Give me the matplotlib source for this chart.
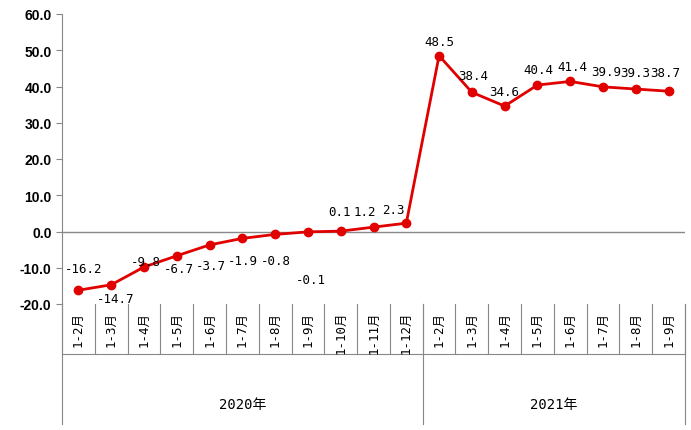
import matplotlib.pyplot as plt
from matplotlib.lines import Line2D

plt.rcParams["font.family"] = ["DejaVu Sans Mono", "Noto Sans CJK SC"]

months = ["1-2月", "1-3月", "1-4月", "1-5月", "1-6月", "1-7月", "1-8月", "1-9月", "1-10月", "1-11月", "1-12月",
          "1-2月", "1-3月", "1-4月", "1-5月", "1-6月", "1-7月", "1-8月", "1-9月"]
years = ["2020年", "2021年"]
year_counts = [11, 8]
values = [-16.2, -14.7, -9.8, -6.7, -3.7, -1.9, -0.8, -0.1, 0.1, 1.2, 2.3,
          48.5, 38.4, 34.6, 40.4, 41.4, 39.9, 39.3, 38.7]
# label offsets in pixels (dx, dy)
offsets = [(5, 22), (4, -14), (2, 6), (2, -13), (1, -21), (1, -22), (1, -26), (3, -48),
           (-1, 20), (-9, 16), (-13, 14), (0, 14), (1, 17), (0, 15), (1, 16), (2, 15),
           (3, 15), (-1, 17), (-3, 19)]

W, H = 691, 431
fig = plt.figure(figsize=(W / 100, H / 100), dpi=100)
ax = fig.add_axes([62 / W, 1 - 305 / H, (685 - 62) / W, 290 / H])
n = len(values)
x = list(range(n))
ax.plot(x, values, color="#E00000", lw=2, marker="o", ms=6, zorder=3)
for xi, v, (dx, dy) in zip(x, values, offsets):
    ax.annotate(f"{v:.1f}", (xi, v), xytext=(dx, dy), textcoords="offset pixels",
                ha="center", va="center", fontsize=9)
ax.set_xlim(-0.5, n - 0.5)
ax.set_ylim(-20, 60)
ax.set_yticks(range(-20, 61, 10))
ax.set_yticklabels([f"{t:.1f}" for t in range(-20, 61, 10)], fontsize=10, family="Liberation Sans", fontweight="bold")
for s in ["top", "right", "bottom"]:
    ax.spines[s].set_visible(False)
ax.spines["left"].set_color("#888888")
ax.axhline(0, color="#888888", lw=1)
ax.set_xticks([])
ax.tick_params(axis="y", length=4, color="#888888")

# category axis below
def fx(i):
    return (62 + (i + 0.5) * (685 - 62) / n) / W

def sep(i):
    return (62 + i * (685 - 62) / n) / W

ytop = 1 - 305 / H
for i in range(n + 1):
    fig.add_artist(Line2D([sep(i), sep(i)], [ytop, 1 - 355 / H], color="#888888", lw=0.8))
for i, m in enumerate(months):
    fig.text(fx(i), 1 - 312 / H, m, rotation=90, ha="center", va="top", fontsize=9)
fig.add_artist(Line2D([sep(0), sep(n)], [1 - 355 / H, 1 - 355 / H], color="#888888", lw=0.8))
start = 0
for yname, c in zip(years, year_counts):
    fig.add_artist(Line2D([sep(start), sep(start)], [ytop, 1 - 425 / H], color="#888888", lw=0.8))
    fig.text((sep(start) + sep(start + c)) / 2, 1 - 405 / H, yname, ha="center", va="center", fontsize=10)
    start += c
fig.add_artist(Line2D([sep(n), sep(n)], [ytop, 1 - 425 / H], color="#888888", lw=0.8))

fig.savefig("out.png", dpi=100)
